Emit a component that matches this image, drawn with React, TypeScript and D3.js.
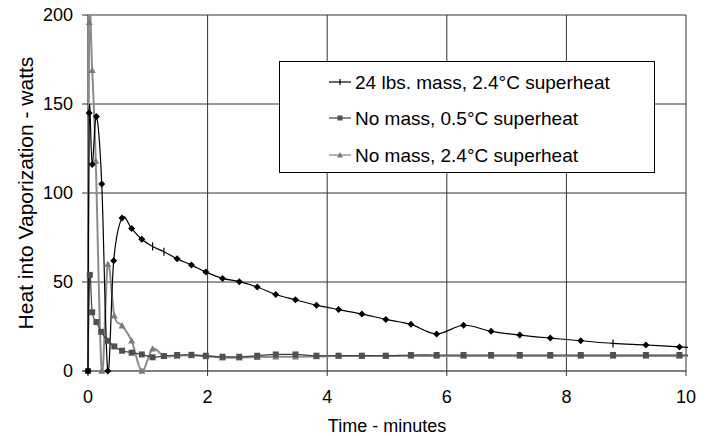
import React from "react";
import * as d3 from "d3";

const xTicks = [0, 2, 4, 6, 8, 10];
const yTicks = [0, 50, 100, 150, 200];

const seriesNames = [
  "24 lbs. mass, 2.4°C superheat",
  "No mass, 0.5°C superheat",
  "No mass, 2.4°C superheat",
];

const mass24Time = [0, 0.02, 0.07, 0.14, 0.23, 0.33, 0.43, 0.57, 0.73, 0.9, 1.08, 1.27, 1.49, 1.73, 1.97, 2.25, 2.53, 2.83, 3.14, 3.47, 3.82, 4.19, 4.58, 4.98, 5.4, 5.83, 6.28, 6.74, 7.22, 7.73, 8.24, 8.78, 9.33, 9.89, 10.3];
const mass24Heat = [0, 145, 116, 143, 105, 0, 62, 86, 80, 74, 70, 67, 63, 59.5, 55.6, 52, 50.2, 47.2, 43, 40, 37, 34.5, 32, 29, 26.2, 20.8, 25.7, 22.3, 20.2, 18.5, 17, 15.5, 14.6, 13.5, 12.8];
const mass24PlusIdx = [10, 11, 31, 34];

const noMass05Time = [0, 0.03, 0.07, 0.14, 0.22, 0.33, 0.44, 0.57, 0.73, 0.9, 1.08, 1.27, 1.49, 1.73, 1.97, 2.25, 2.53, 2.83, 3.14, 3.47, 3.82, 4.19, 4.58, 4.98, 5.4, 5.83, 6.28, 6.74, 7.22, 7.73, 8.24, 8.78, 9.33, 9.89, 10.3];
const noMass05Heat = [0, 54, 33, 27.5, 22, 17, 13.8, 11.4, 10.3, 9.3, 7.7, 8.4, 9, 9.1, 8.6, 8.0, 8.0, 8.6, 9.3, 9.3, 8.6, 8.6, 8.6, 8.6, 9, 9, 9, 9, 9, 9, 9, 9, 9, 9, 9];

const noMass24Time = [0, 0.02, 0.07, 0.13, 0.23, 0.33, 0.44, 0.57, 0.73, 0.9, 1.08, 1.27, 1.49, 1.73, 1.97, 2.25, 2.53, 2.83, 3.14, 3.47, 3.82, 4.19, 4.58, 4.98, 5.4, 5.83, 6.28, 6.74, 7.22, 7.73, 8.24, 8.78, 9.33, 9.89, 10.3];
const noMass24Heat = [0, 196, 169, 118, 0, 60, 31, 25.5, 17, 0, 12.5, 8.4, 8.5, 8.8, 8.2, 7.5, 7.5, 7.8, 8, 8, 8.2, 8.4, 8.4, 8.4, 8.4, 8.4, 8.4, 8.4, 8.4, 8.4, 8.4, 8.4, 8.4, 8.4, 8.4];

const W = 711;
const H = 436;
const left = 88;
const right = 686;
const top = 15;
const bottom = 371;
const font = "'Liberation Sans', Arial, sans-serif";

export default function App() {
  const x = d3.scaleLinear().domain([0, 10]).range([left, right]);
  const y = d3.scaleLinear().domain([0, 200]).range([bottom, top]);
  const line = d3
    .line<[number, number]>()
    .x((d) => x(d[0]))
    .y((d) => y(d[1]))
    .curve(d3.curveCardinal.tension(0));

  const s1 = mass24Time.map((t, i) => [t, mass24Heat[i]] as [number, number]);
  const s2 = noMass05Time.map((t, i) => [t, noMass05Heat[i]] as [number, number]);
  const s3 = noMass24Time.map((t, i) => [t, noMass24Heat[i]] as [number, number]);
  const inside = (d: [number, number]) => d[0] <= 10;

  const diamond = (cx: number, cy: number, r: number) =>
    `M${cx},${cy - r}L${cx + r},${cy}L${cx},${cy + r}L${cx - r},${cy}Z`;
  const tri = (cx: number, cy: number, r: number) =>
    `M${cx},${cy - r}L${cx + r},${cy + r * 0.8}L${cx - r},${cy + r * 0.8}Z`;

  const legendY = [82, 118, 155];

  return (
    <svg width={W} height={H} style={{ position: "absolute", left: 0, top: 0, background: "#fff" }}>
      <defs>
        <clipPath id="plotClip">
          <rect x={left - 6} y={top} width={right - left + 8} height={bottom - top} />
        </clipPath>
      </defs>
      {/* grid */}
      {yTicks.map((v) => (
        <line key={"gy" + v} x1={left - 6} x2={right} y1={y(v)} y2={y(v)} stroke={v === 0 ? "#000" : "#333"} strokeWidth={1} />
      ))}
      {xTicks.map((v) => (
        <line key={"gx" + v} x1={x(v)} x2={x(v)} y1={top} y2={bottom + 5} stroke={v === 0 ? "#000" : "#333"} strokeWidth={1} />
      ))}
      {/* y labels */}
      {yTicks.map((v) => (
        <text key={"ly" + v} x={left - 15} y={y(v)} dy="0.35em" textAnchor="end" fontFamily={font} fontSize={18} fill="#000">
          {v}
        </text>
      ))}
      {xTicks.map((v) => (
        <text key={"lx" + v} x={x(v)} y={403} textAnchor="middle" fontFamily={font} fontSize={18} fill="#000">
          {v}
        </text>
      ))}
      <text x={(left + right) / 2} y={432} textAnchor="middle" fontFamily={font} fontSize={18} fill="#000">
        Time - minutes
      </text>
      <text
        transform={`translate(33,${(top + bottom) / 2}) rotate(-90)`}
        textAnchor="middle"
        fontFamily={font}
        fontSize={21}
        fill="#000"
      >
        Heat into Vaporization - watts
      </text>

      <g clipPath="url(#plotClip)">
        <path d={line(s3) || ""} fill="none" stroke="#8c8c8c" strokeWidth={2} />
        <path d={line(s2) || ""} fill="none" stroke="#404040" strokeWidth={1.2} />
        <path d={line(s1) || ""} fill="none" stroke="#000" strokeWidth={1.2} />
      </g>
      {s3.filter(inside).map((d, i) => (
        <path key={"m3" + i} d={tri(x(d[0]), y(d[1]), 3.5)} fill="#7a7a7a" />
      ))}
      {s2.filter(inside).map((d, i) => (
        <rect key={"m2" + i} x={x(d[0]) - 3} y={y(d[1]) - 3} width={6} height={6} fill="#505050" />
      ))}
      {s1.map((d, i) =>
        !inside(d) ? null : mass24PlusIdx.includes(i) ? (
          <line key={"m1" + i} x1={x(d[0])} x2={x(d[0])} y1={y(d[1]) - 4} y2={y(d[1]) + 4} stroke="#000" strokeWidth={1.2} />
        ) : (
          <path key={"m1" + i} d={diamond(x(d[0]), y(d[1]), 3.5)} fill="#000" />
        )
      )}

      {/* legend */}
      <rect x={279.5} y={61.5} width={375} height={111} fill="#fff" stroke="#000" strokeWidth={1} />
      {seriesNames.map((name, i) => (
        <g key={"lg" + i}>
          <line
            x1={329}
            x2={351}
            y1={legendY[i]}
            y2={legendY[i]}
            stroke={i === 0 ? "#000" : i === 1 ? "#404040" : "#808080"}
            strokeWidth={1.2}
          />
          {i === 0 && <line x1={340} x2={340} y1={legendY[i] - 3} y2={legendY[i] + 3} stroke="#000" strokeWidth={1.2} />}
          {i === 1 && <rect x={337.5} y={legendY[i] - 2.5} width={5} height={5} fill="#505050" />}
          {i === 2 && <path d={tri(340, legendY[i], 3)} fill="#7a7a7a" />}
          <text x={355} y={legendY[i]} dy="0.35em" fontFamily={font} fontSize={19} fill="#000">
            {name}
          </text>
        </g>
      ))}
    </svg>
  );
}
